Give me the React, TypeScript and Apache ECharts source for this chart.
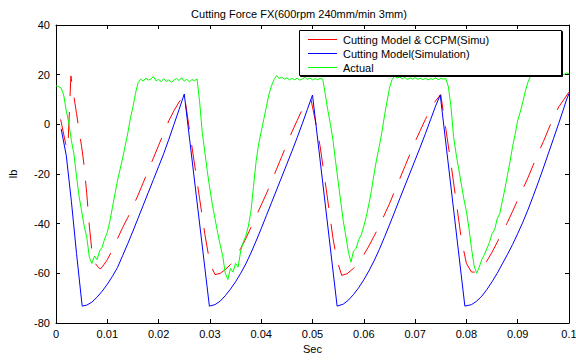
import React, { useEffect, useRef } from "react";
import * as echarts from "echarts";

const TITLE = "Cutting Force FX(600rpm 240mm/min 3mm)";
const X_NAME = "Sec";
const Y_NAME = "lb";
const SERIES_NAMES = ["Cutting Model & CCPM(Simu)", "Cutting Model(Simulation)", "Actual"];
const SERIES_COLORS = ["#ff0000", "#0000ff", "#00ff00"];
const X_MIN = 0;
const X_MAX = 0.1;
const X_STEP = 0.01;
const Y_MIN = -80;
const Y_MAX = 40;
const Y_STEP = 20;

// Measured force: one sample every 0.5 ms from 0 s
const ACTUAL_SAMPLE_STEP = 0.0005;
const actualForce = [
  15.5, 15.2, 14.6, 11.8, 5.5, 0.5, -6.5, -12, -21, -29,
  -35, -41, -45.5, -53.5, -56, -53, -54.5, -51, -49.5, -46,
  -43.5, -39, -33.5, -28, -22.5, -18, -13.5, -8.5, -3.5, 2.5,
  7, 12.5, 16.8, 18.2, 17.4, 18.6, 17.8, 18.3, 19.2, 17.5,
  18.1, 17.2, 18.4, 17.3, 17.9, 16.9, 17.8, 18.5, 17.6, 18.8,
  17.4, 18.2, 17.1, 18.0, 17.6, 18.3, 9, -3, -11, -19,
  -26, -32.5, -38, -43.5, -48.5, -53, -60, -62.5, -58, -59.5,
  -56, -57.5, -51, -47.5, -45, -41, -35, -25, -15, -8,
  -3, 2, 7, 12, 15.5, 18, 19.6, 18.4, 19.0, 18.2,
  18.7, 17.9, 18.5, 18.0, 18.6, 17.8, 18.3, 18.9, 18.1, 18.6,
  17.9, 18.4, 18.0, 18.5, 18.2, 12, 5.5, 0, -6.5, -15,
  -23, -31, -39, -45, -51.5, -55.5, -51, -50, -46.5, -44.5,
  -41, -37, -32, -26.5, -20, -14, -9, -3.5, 3, 9,
  14.5, 18, 19.5, 18.6, 19.1, 18.3, 18.9, 18.0, 18.7, 18.2,
  18.8, 18.1, 18.6, 18.0, 18.5, 17.9, 18.4, 18.1, 18.7, 18.0,
  18.5, 18.2, 18.4, 15, 7, -5, -12, -18, -24, -30,
  -35, -42, -50, -57, -60, -57.5, -54.5, -52.5, -50, -47.5,
  -44, -42.5, -38, -36, -31, -26, -20.5, -15, -9, -4,
  1.5, 5, 9, 13.5, 17, 19.5, 19.8, 20.4, 19.7, 20.2,
  19.9, 20.5, 20.0, 20.3, 19.8, 20.6, 20.1, 20.4, 20.0, 20.7,
  20.3,
];

// Cutting Model & CCPM simulation: [time s, force lb]
const ccpmForce = [
  [0.0009, 2], [0.002, -9], [0.0023, -10], [0.0029, 19.5], [0.0035, 11], [0.004, 4.4],
  [0.0045, -2.5], [0.005, -9], [0.0055, -17], [0.006, -28], [0.0065, -41], [0.007, -51],
  [0.0075, -55.5], [0.008, -57], [0.0086, -58.2], [0.009, -57.5], [0.01, -54.5], [0.011, -50.5],
  [0.012, -46], [0.013, -41.5], [0.014, -37.5], [0.015, -33], [0.016, -28.5], [0.017, -23.5],
  [0.018, -18.5], [0.019, -13.5], [0.02, -8.5], [0.021, -3.5], [0.022, 1.5], [0.023, 5.5],
  [0.024, 9], [0.025, 12],
  [0.026, -2], [0.027, -16], [0.028, -30], [0.029, -44], [0.03, -56], [0.031, -60.5],
  [0.032, -60], [0.033, -58.5], [0.034, -56.5], [0.035, -53.5], [0.036, -50], [0.037, -46],
  [0.038, -41.5], [0.039, -37], [0.04, -32.5], [0.041, -28], [0.042, -23], [0.043, -18],
  [0.044, -13], [0.045, -8], [0.046, -3], [0.047, 1.5], [0.048, 6], [0.049, 9.5], [0.0497, 10],
  [0.0505, 2], [0.0515, -9], [0.0528, -28], [0.054, -46], [0.0548, -55], [0.0557, -60.8],
  [0.0567, -60.2], [0.058, -58], [0.059, -55.5], [0.06, -52.5], [0.061, -49], [0.062, -45],
  [0.063, -41], [0.064, -36.5], [0.065, -32], [0.066, -27], [0.067, -22], [0.068, -17],
  [0.069, -12], [0.07, -7], [0.071, -2.5], [0.072, 2], [0.073, 6], [0.074, 9.5], [0.075, 12],
  [0.076, -2], [0.077, -16], [0.078, -31], [0.079, -46], [0.08, -56], [0.081, -59.5],
  [0.082, -59.5], [0.083, -57.5], [0.084, -55], [0.085, -51.5], [0.086, -47.5], [0.087, -43.5],
  [0.088, -39.5], [0.089, -35], [0.09, -30.5], [0.091, -26], [0.092, -21.5], [0.093, -16.5],
  [0.094, -11.5], [0.095, -7], [0.096, -2], [0.097, 3], [0.098, 7], [0.099, 10], [0.1, 13],
];

// Cutting Model simulation: [time s, force lb]
const simForce = [
  [0.001, -1.8], [0.002, -12.5], [0.003, -31], [0.004, -52], [0.0051, -73.2],
  [0.006, -72.8], [0.007, -71.6], [0.008, -69.6], [0.009, -67.2], [0.01, -64.4], [0.011, -61.2],
  [0.012, -57.6], [0.013, -52.8], [0.014, -48], [0.015, -43], [0.016, -37.8], [0.017, -32.6],
  [0.018, -27.4], [0.019, -22.2], [0.02, -17], [0.021, -11.8], [0.022, -6], [0.023, 0],
  [0.024, 6], [0.025, 12.2],
  [0.0299, -73.2],
  [0.031, -72.6], [0.032, -71.2], [0.033, -69], [0.034, -66.4], [0.035, -63.4], [0.036, -60],
  [0.037, -56.2], [0.038, -51.8], [0.039, -47], [0.04, -42], [0.041, -36.8], [0.042, -31.6],
  [0.043, -26.4], [0.044, -21.2], [0.045, -16], [0.046, -10.8], [0.047, -5.4], [0.048, 0.2],
  [0.049, 6], [0.05, 11.8],
  [0.0548, -73.2],
  [0.056, -72.4], [0.057, -70.8], [0.058, -68.5], [0.059, -65.8], [0.06, -62.6], [0.061, -59],
  [0.062, -55], [0.063, -50.5], [0.064, -45.6], [0.065, -40.5], [0.066, -35.3], [0.067, -30],
  [0.068, -24.8], [0.069, -19.6], [0.07, -14.4], [0.071, -9.2], [0.072, -3.8], [0.073, 1.8],
  [0.074, 7.4], [0.0749, 11.8],
  [0.0797, -73.2],
  [0.081, -72.6], [0.082, -71.2], [0.083, -69.2], [0.084, -66.5], [0.085, -63.4], [0.086, -60],
  [0.087, -56.2], [0.088, -52.4], [0.089, -48.4], [0.09, -44], [0.091, -39.4], [0.092, -34.4],
  [0.093, -29], [0.094, -23.4], [0.095, -17.6], [0.096, -11.6], [0.097, -5.6], [0.098, 0.4],
  [0.099, 6.6], [0.0995, 9.8], [0.1, 12.4],
];

const FONT = "Liberation Sans, Arial, sans-serif";

export default function App() {
  const ref = useRef<HTMLDivElement>(null);

  useEffect(() => {
    document.body.style.margin = "0";
    if (!ref.current) return;
    const chart = echarts.init(ref.current, null, { renderer: "svg" });

    const actualData = actualForce.map((v, i) => [
      Number((i * ACTUAL_SAMPLE_STEP).toFixed(4)),
      v,
    ]);

    const axisCommon = {
      type: "value",
      axisLine: { show: true, onZero: false, lineStyle: { color: "#000", width: 1 } },
      axisTick: { show: true, inside: true, length: 4, lineStyle: { color: "#000", width: 1 } },
      splitLine: { show: false },
    };

    const xFmt = (v: number) => String(parseFloat(v.toFixed(3)));

    // Legend box, drawn as graphic so its size matches the original
    const legendRows = [39, 53, 67];
    const legendItems: any[] = [];
    SERIES_NAMES.forEach((name, i) => {
      legendItems.push({
        type: "rect",
        id: "legend-swatch-" + i,
        z: 7,
        silent: true,
        shape: { x: 308, y: legendRows[i], width: 29, height: 1 },
        style: { fill: SERIES_COLORS[i], stroke: null, lineWidth: 0, lineDash: null },
      });
      legendItems.push({
        type: "text",
        id: "legend-text-" + i,
        z: 7,
        silent: true,
        x: 343,
        y: legendRows[i] + 0.5,
        style: {
          text: name,
          fill: "#000",
          font: `11px ${FONT}`,
          textAlign: "left",
          verticalAlign: "middle",
        },
      });
    });

    const option: any = {
      animation: false,
      backgroundColor: "#ffffff",
      title: {
        text: TITLE,
        left: 294,
        top: 3,
        textAlign: "center",
        textStyle: { fontFamily: FONT, fontSize: 11, fontWeight: "normal", color: "#000" },
      },
      grid: {
        left: 56,
        right: 7,
        top: 25,
        bottom: 37,
        containLabel: false,
        outerBoundsMode: "none",
      },
      xAxis: [
        {
          ...axisCommon,
          position: "bottom",
          min: X_MIN,
          max: X_MAX,
          interval: X_STEP,
          name: X_NAME,
          nameLocation: "middle",
          nameGap: 20,
          nameTextStyle: { fontFamily: FONT, fontSize: 11, color: "#000" },
          axisLabel: {
            color: "#000",
            fontFamily: FONT,
            fontSize: 11,
            margin: 5,
            formatter: xFmt,
            showMinLabel: true,
            showMaxLabel: true,
          },
        },
        {
          ...axisCommon,
          position: "top",
          min: X_MIN,
          max: X_MAX,
          interval: X_STEP,
          axisLabel: { show: false },
        },
      ],
      yAxis: [
        {
          ...axisCommon,
          position: "left",
          min: Y_MIN,
          max: Y_MAX,
          interval: Y_STEP,
          name: Y_NAME,
          nameLocation: "middle",
          nameGap: 38,
          nameRotate: 90,
          nameTextStyle: { fontFamily: FONT, fontSize: 11, color: "#000" },
          axisLabel: {
            color: "#000",
            fontFamily: FONT,
            fontSize: 11,
            margin: 6,
            showMinLabel: true,
            showMaxLabel: true,
          },
        },
        {
          ...axisCommon,
          position: "right",
          min: Y_MIN,
          max: Y_MAX,
          interval: Y_STEP,
          axisLabel: { show: false },
        },
      ],
      graphic: [
        {
          type: "rect",
          id: "legend-shadow",
          z: 5,
          silent: true,
          shape: { x: 300.5, y: 31.5, width: 262, height: 45 },
          style: { fill: "#000", stroke: "#000", lineWidth: 1 },
        },
        {
          type: "rect",
          id: "legend-box",
          z: 6,
          silent: true,
          shape: { x: 299.5, y: 30.5, width: 262, height: 45 },
          style: { fill: "#fff", stroke: "#000", lineWidth: 1 },
        },
        ...legendItems,
      ],
      series: [
        {
          name: SERIES_NAMES[0],
          type: "line",
          data: ccpmForce,
          symbol: "none",
          showSymbol: false,
          silent: true,
          z: 2,
          itemStyle: { color: SERIES_COLORS[0] },
          lineStyle: { color: SERIES_COLORS[0], width: 1, type: [26, 16] },
        },
        {
          name: SERIES_NAMES[1],
          type: "line",
          data: simForce,
          symbol: "none",
          showSymbol: false,
          silent: true,
          z: 2,
          itemStyle: { color: SERIES_COLORS[1] },
          lineStyle: { color: SERIES_COLORS[1], width: 1 },
        },
        {
          name: SERIES_NAMES[2],
          type: "line",
          data: actualData,
          symbol: "none",
          showSymbol: false,
          silent: true,
          z: 2,
          itemStyle: { color: SERIES_COLORS[2] },
          lineStyle: { color: SERIES_COLORS[2], width: 1 },
        },
      ],
    };

    chart.setOption(option);
    return () => chart.dispose();
  }, []);

  return <div ref={ref} style={{ width: 576, height: 360 }} />;
}
